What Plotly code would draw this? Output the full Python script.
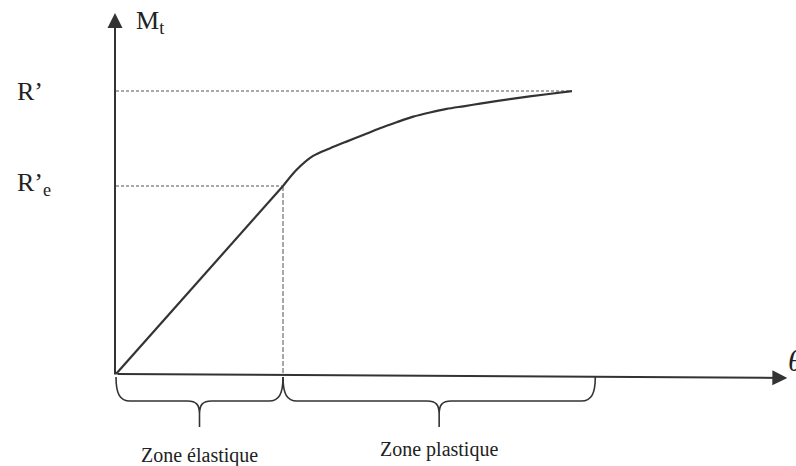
import plotly.graph_objects as go

# ---------------- data ----------------
theta = [0, 1.0, 1.08, 1.18, 1.28, 1.38, 1.48, 1.58, 1.68, 1.78, 1.88, 1.98, 2.08, 2.18, 2.38, 2.58, 2.73]
moment = [0, 1.0, 1.085, 1.16, 1.20, 1.236, 1.271, 1.307, 1.339, 1.369, 1.391, 1.41, 1.424, 1.438, 1.465, 1.488, 1.505]
R_e = 1.0        # R'e  (elastic limit)
R_max = 1.505    # R'
theta_e = 1.0
theta_end = 2.73
zone_bounds = [0.0, 1.0, 2.87]
zone_labels = ["Zone élastique", "Zone plastique"]
x_axis_end = [4.02, -0.021]
y_axis_end = [-0.006, 1.92]

# ---------------- layout scale ----------------
W, H = 796, 466
X0_PX, Y0_PX = 116, 374
SX, SY = 167.0, 188.0
xr = [-X0_PX / SX, (W - X0_PX) / SX]
yr = [-(H - Y0_PX) / SY, Y0_PX / SY]


def dx(p):
    return p / SX


def dy(p):
    return p / SY


LINE = "#333333"
DOT = "#8c8c8c"
TXT = "#222222"
FONT = "Liberation Serif"

fig = go.Figure()

# reference dotted lines
fig.add_trace(go.Scatter(x=[0, theta_end], y=[R_max, R_max], mode="lines",
                         line=dict(color=DOT, width=1.5, dash="3px,2px"), hoverinfo="skip"))
fig.add_trace(go.Scatter(x=[0, theta_e], y=[R_e, R_e], mode="lines",
                         line=dict(color=DOT, width=1.5, dash="3px,2px"), hoverinfo="skip"))
fig.add_trace(go.Scatter(x=[theta_e, theta_e], y=[R_e, 0], mode="lines",
                         line=dict(color=DOT, width=1.5, dash="5px,2px"), hoverinfo="skip"))

# curve: straight elastic part + smooth plastic part
fig.add_trace(go.Scatter(x=theta[:2], y=moment[:2], mode="lines",
                         line=dict(color=LINE, width=2.2), hoverinfo="skip"))
fig.add_trace(go.Scatter(x=theta[1:], y=moment[1:], mode="lines",
                         line=dict(color=LINE, width=2.2, shape="spline", smoothing=0.8),
                         hoverinfo="skip"))

annotations = []
# axes with arrows
annotations.append(dict(x=x_axis_end[0], y=x_axis_end[1], ax=0, ay=0, xref="x", yref="y",
                        axref="x", ayref="y", text="", showarrow=True, arrowhead=2,
                        arrowsize=1.5, arrowwidth=2, arrowcolor=LINE, standoff=0))
annotations.append(dict(x=y_axis_end[0], y=y_axis_end[1], ax=y_axis_end[0], ay=-dy(2), xref="x", yref="y",
                        axref="x", ayref="y", text="", showarrow=True, arrowhead=2,
                        arrowsize=1.5, arrowwidth=2, arrowcolor=LINE, standoff=0))

# labels
annotations.append(dict(x=dx(15 - X0_PX), y=R_max, xref="x", yref="y", text="R’",
                        showarrow=False, xanchor="left", yanchor="middle",
                        font=dict(family=FONT, size=26, color=TXT)))
annotations.append(dict(x=dx(15 - X0_PX), y=R_e + dy(2), xref="x", yref="y", text="R’<sub>e</sub>",
                        showarrow=False, xanchor="left", yanchor="middle",
                        font=dict(family=FONT, size=26, color=TXT)))
annotations.append(dict(x=y_axis_end[0] + dx(19), y=y_axis_end[1] - dy(9), xref="x", yref="y",
                        text="M<sub>t</sub>", showarrow=False, xanchor="left", yanchor="middle",
                        font=dict(family=FONT, size=26, color=TXT)))
annotations.append(dict(x=x_axis_end[0] - dx(1), y=x_axis_end[1] + dy(17), xref="x", yref="y",
                        text="<i>θ</i>", showarrow=False, xanchor="left", yanchor="middle",
                        font=dict(family=FONT, size=30, color=TXT)))

zone_label_offsets = [81, 75]
shapes = []
for i, lab in enumerate(zone_labels):
    xa, xb = zone_bounds[i], zone_bounds[i + 1]
    xm = (xa + xb) / 2
    annotations.append(dict(x=xm, y=-dy(zone_label_offsets[i]), xref="x", yref="y", text=lab,
                            showarrow=False, xanchor="center", yanchor="middle",
                            font=dict(family=FONT, size=20, color=TXT)))
    yt, yb = -dy(3), -dy(27)
    path = (f"M {xa},{yt} C {xa},{-dy(20)} {xa + dx(4)},{yb} {xa + dx(14)},{yb} "
            f"L {xm - dx(12)},{yb} C {xm - dx(3)},{yb} {xm},{-dy(31)} {xm},{-dy(40)} "
            f"L {xm},{-dy(53)} L {xm},{-dy(40)} "
            f"C {xm},{-dy(31)} {xm + dx(3)},{yb} {xm + dx(12)},{yb} "
            f"L {xb - dx(14)},{yb} C {xb - dx(4)},{yb} {xb},{-dy(20)} {xb},{yt}")
    shapes.append(dict(type="path", path=path, xref="x", yref="y",
                       line=dict(color=LINE, width=1.6)))

fig.update_layout(
    width=W, height=H, margin=dict(l=0, r=0, t=0, b=0),
    paper_bgcolor="white", plot_bgcolor="white", showlegend=False,
    xaxis=dict(range=xr, visible=False, fixedrange=True),
    yaxis=dict(range=yr, visible=False, fixedrange=True),
    annotations=annotations, shapes=shapes,
)

fig.write_html("out.html", config={"displayModeBar": False},
               post_script="document.body.style.margin='0';")
